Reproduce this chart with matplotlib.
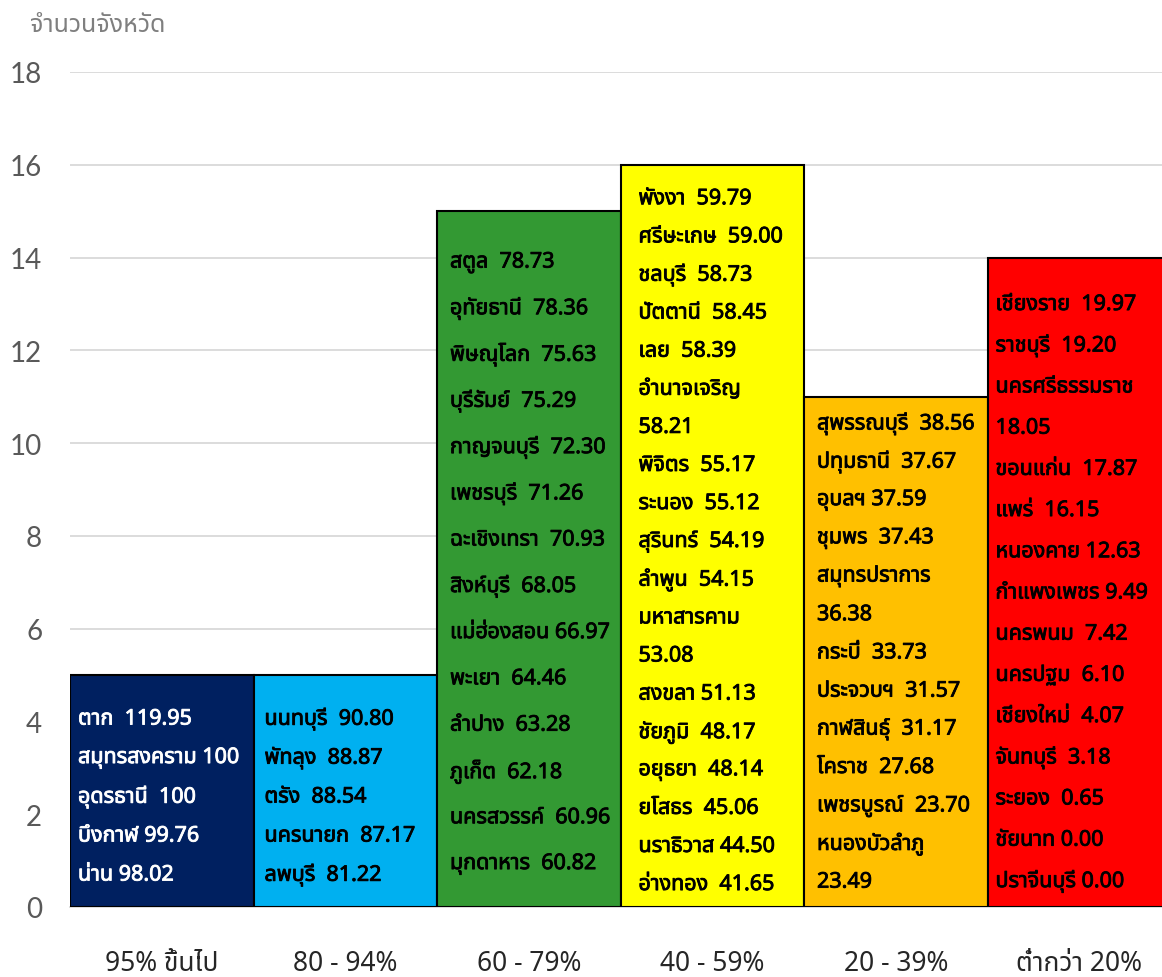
import matplotlib
matplotlib.use("Agg")
import matplotlib.pyplot as plt
import matplotlib.patheffects as pe
from matplotlib import font_manager
from matplotlib.ft2font import FT2Font

# ---------------- data ----------------
categories = ["95% ขึ้นไป", "80 - 94%", "60 - 79%", "40 - 59%", "20 - 39%", "ต่ำกว่า 20%"]
counts = [5, 5, 15, 16, 11, 14]

names_95 = ["ตาก", "สมุทรสงคราม", "อุดรธานี", "บึงกาฬ", "น่าน"]
vals_95 = ["119.95", "100", "100", "99.76", "98.02"]

names_80 = ["นนทบุรี", "พัทลุง", "ตรัง", "นครนายก", "ลพบุรี"]
vals_80 = ["90.80", "88.87", "88.54", "87.17", "81.22"]

names_60 = ["สตูล", "อุทัยธานี", "พิษณุโลก", "บุรีรัมย์", "กาญจนบุรี", "เพชรบุรี", "ฉะเชิงเทรา",
            "สิงห์บุรี", "แม่ฮ่องสอน", "พะเยา", "ลำปาง", "ภูเก็ต", "นครสวรรค์", "มุกดาหาร"]
vals_60 = ["78.73", "78.36", "75.63", "75.29", "72.30", "71.26", "70.93",
           "68.05", "66.97", "64.46", "63.28", "62.18", "60.96", "60.82"]

names_40 = ["พังงา", "ศรีษะเกษ", "ชลบุรี", "ปัตตานี", "เลย", "อำนาจเจริญ", "พิจิตร", "ระนอง",
            "สุรินทร์", "ลำพูน", "มหาสารคาม", "สงขลา", "ชัยภูมิ", "อยุธยา", "ยโสธร", "นราธิวาส", "อ่างทอง"]
vals_40 = ["59.79", "59.00", "58.73", "58.45", "58.39", "58.21", "55.17", "55.12",
           "54.19", "54.15", "53.08", "51.13", "48.17", "48.14", "45.06", "44.50", "41.65"]

names_20 = ["สุพรรณบุรี", "ปทุมธานี", "อุบลฯ", "ชุมพร", "สมุทรปราการ", "กระบี่", "ประจวบฯ",
            "กาฬสินธุ์", "โคราช", "เพชรบูรณ์", "หนองบัวลำภู"]
vals_20 = ["38.56", "37.67", "37.59", "37.43", "36.38", "33.73", "31.57",
           "31.17", "27.68", "23.70", "23.49"]

names_0 = ["เชียงราย", "ราชบุรี", "นครศรีธรรมราช", "ขอนแก่น", "แพร่", "หนองคาย", "กำแพงเพชร",
           "นครพนม", "นครปฐม", "เชียงใหม่", "จันทบุรี", "ระยอง", "ชัยนาท", "ปราจีนบุรี"]
vals_0 = ["19.97", "19.20", "18.05", "17.87", "16.15", "12.63", "9.49",
          "7.42", "6.10", "4.07", "3.18", "0.65", "0.00", "0.00"]

groups = [(names_95, vals_95), (names_80, vals_80), (names_60, vals_60),
          (names_40, vals_40), (names_20, vals_20), (names_0, vals_0)]

# ---------------- style ----------------
bar_colors = ["#002060", "#00B0F0", "#339933", "#FFFF00", "#FFC000", "#FF0000"]
text_colors = ["white", "black", "black", "black", "black", "black"]
wrapped = {"อำนาจเจริญ", "มหาสารคาม", "สมุทรปราการ", "หนองบัวลำภู", "นครศรีธรรมราช"}
single_space = {"สมุทรสงคราม", "บึงกาฬ", "น่าน", "แม่ฮ่องสอน", "สงขลา", "นราธิวาส", "อุบลฯ",
                "หนองคาย", "กำแพงเพชร", "ชัยนาท", "ปราจีนบุรี"}
# (x offset px, first-line offset px below bar top, line spacing px)
text_layout = [(8, 44, 39), (11, 44, 39), (13, 51, 46.3), (18, 34, 38.1), (13, 27, 38.2), (8, 47, 41.2)]


def thai_fonts():
    found = []
    for f in font_manager.fontManager.ttflist:
        try:
            ft = FT2Font(f.fname)
            if ft.get_char_index(0x0E01) and ft.get_char_index(0x0E31):
                found.append(f.name)
        except Exception:
            pass
    return found


tf = thai_fonts()
pref = ["Tahoma", "Leelawadee UI", "Noto Sans Thai", "Noto Sans Thai UI", "Loma", "Garuda",
        "Sarabun", "Kanit", "Prompt", "Norasi", "Waree", "Umpush", "Laksaman", "TlwgTypo"]
thai = None
for p in pref:
    if p in tf:
        thai = p
        break
if thai is None and tf:
    thai = tf[0]
fam = ([thai] if thai else []) + ["DejaVu Sans"]
plt.rcParams["font.family"] = fam

W, H = 1162, 978
fig = plt.figure(figsize=(W / 100, H / 100), dpi=100)
x0, x1 = 70, 1171
y0, y1 = 908, 73
ax = fig.add_axes([x0 / W, 1 - y0 / H, (x1 - x0) / W, (y0 - y1) / H])

xs = list(range(len(categories)))
ax.bar(xs, counts, width=1.0, color=bar_colors, edgecolor="black", linewidth=1.5, zorder=3)
ax.set_xlim(-0.5, len(categories) - 0.5)
ax.set_ylim(0, 18)
ax.set_yticks(range(0, 19, 2))
ax.yaxis.grid(True, color="#D9D9D9", linewidth=1.3, zorder=0)
ax.set_axisbelow(True)
for s in ["top", "right", "left"]:
    ax.spines[s].set_visible(False)
ax.spines["bottom"].set_color("#D9D9D9")
ax.spines["bottom"].set_linewidth(1.3)
ax.tick_params(axis="both", length=0)
ax.tick_params(axis="y", labelsize=20, labelcolor="#595959", pad=20)
for lab in ax.get_yticklabels():
    lab.set_family(["Lato"] + fam)
ax.set_xticks(xs)
ax.set_xticklabels(categories, fontsize=19, color="#262626")
ax.tick_params(axis="x", pad=30)

fig.text(30 / W, 1 - 25 / H, "จำนวนจังหวัด", fontsize=18, color="#7F7F7F", va="center", ha="left")

pt = 72 / 100  # points per pixel
for i, (names, vals) in enumerate(groups):
    lines = []
    for n, v in zip(names, vals):
        if n in wrapped:
            lines.append(n)
            lines.append(v)
        elif n in single_space:
            lines.append(f"{n} {v}")
        else:
            lines.append(f"{n}  {v}")
    dx, top, sp = text_layout[i]
    for k, line in enumerate(lines):
        ax.annotate(line, xy=(xs[i] - 0.5, counts[i]), xycoords="data",
                    xytext=(dx * pt, -(top + k * sp) * pt), textcoords="offset points",
                    ha="left", va="center", fontsize=15.5, color=text_colors[i],
                    fontweight="bold", zorder=5, annotation_clip=False,
                    path_effects=[pe.withStroke(linewidth=0.6, foreground=text_colors[i])])

fig.savefig("out.png", dpi=100)
